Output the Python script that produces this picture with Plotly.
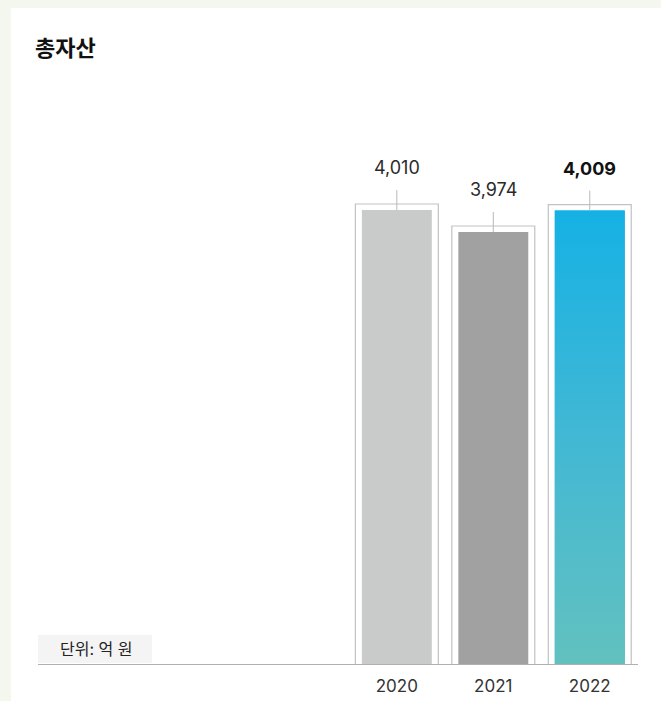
import plotly.graph_objects as go

# Total assets by year (unit: 100 million KRW)
years = ["2020", "2021", "2022"]
assets = [4010, 3974, 4009]
value_labels = ["4,010", "3,974", "4,009"]
bar_colors = ["#c9cbca", "#a0a1a0", "#15b1e4"]

W, H = 661, 701
M_L, M_R, M_T, M_B = 38, 23, 100, 37
PLOT_W = W - M_L - M_R
PLOT_H = H - M_T - M_B

Y_MIN, Y_MAX = 3267, 4190
X_MIN, X_MAX = -3.72, 2.5
PX_PER_UNIT = PLOT_H / (Y_MAX - Y_MIN)

INNER_W = 0.725
OUTER_W = 0.86
FRAME_PAD = 6 / PX_PER_UNIT      # frame rises 6px above each bar
STEM = 20 / PX_PER_UNIT          # leader line length

xs = list(range(len(years)))


def px_x(p):
    return (p - M_L) / PLOT_W


def px_y(p):
    return (H - M_B - p) / PLOT_H


fig = go.Figure()

# outline frames behind the bars
fig.add_trace(go.Bar(
    x=xs, y=[v + FRAME_PAD for v in assets], width=OUTER_W,
    marker=dict(color="white", line=dict(color="#c2c2c2", width=1.2)),
    hoverinfo="skip", showlegend=False,
))

# solid bars
fig.add_trace(go.Bar(
    x=xs, y=assets, width=INNER_W,
    marker=dict(color=bar_colors, line=dict(width=0)),
    hoverinfo="skip", showlegend=False,
))

# gradient fill for the latest year
i = len(years) - 1
x0, x1 = xs[i] - INNER_W / 2, xs[i] + INNER_W / 2
fig.add_trace(go.Scatter(
    x=[x0, x1, x1, x0, x0],
    y=[Y_MIN, Y_MIN, assets[i], assets[i], Y_MIN],
    mode="lines", fill="toself", line=dict(width=0),
    fillgradient=dict(type="vertical",
                      colorscale=[[0, "#62c1bf"], [0.5, "#42b8d4"], [1, "#15b1e4"]]),
    hoverinfo="skip", showlegend=False,
))

shapes = [
    # white card over the tinted page
    dict(type="rect", xref="paper", yref="paper",
         x0=px_x(11), x1=px_x(W + 5), y0=px_y(H + 5), y1=px_y(8),
         fillcolor="white", line=dict(width=0), layer="below"),
    # unit caption box
    dict(type="rect", xref="paper", yref="paper",
         x0=px_x(38), x1=px_x(152), y0=px_y(663), y1=px_y(635),
         fillcolor="#f4f4f4", line=dict(width=0), layer="below"),
]
for x, v in zip(xs, assets):
    shapes.append(dict(type="line", xref="x", yref="y",
                       x0=x, x1=x, y0=v, y1=v + STEM,
                       line=dict(color="#b8b8b8", width=1)))

annotations = []
for k, (x, v, t) in enumerate(zip(xs, assets, value_labels)):
    last = k == len(years) - 1
    annotations.append(dict(
        x=x, y=v, xref="x", yref="y", text=f"<b>{t}</b>" if last else t,
        showarrow=False, yanchor="middle", yshift=42,
        font=dict(size=18, color="#111111" if last else "#2a2a2a",
                  family="Inter, Noto Sans CJK KR"),
    ))
annotations.append(dict(
    x=px_x(96), y=px_y(649), xref="paper", yref="paper",
    text="단위: 억 원", showarrow=False, xanchor="center", yanchor="middle",
    font=dict(size=16, color="#222222", family="Inter, Noto Sans CJK KR"),
))

fig.update_layout(
    width=W, height=H,
    margin=dict(l=M_L, r=M_R, t=M_T, b=M_B, pad=0, autoexpand=False),
    paper_bgcolor="#f3f7ee", plot_bgcolor="white",
    barmode="overlay",
    title=dict(text="총자산", x=35 / W, y=1 - 48 / H, xanchor="left", yanchor="middle",
               font=dict(size=22, color="#111111", family="Noto Sans CJK KR", weight=700)),
    xaxis=dict(range=[X_MIN, X_MAX], tickvals=xs, ticktext=years,
               showgrid=False, zeroline=False, showline=True, automargin=False,
               linecolor="#b0b0b0", linewidth=1, ticks="", ticklabelstandoff=7,
               tickfont=dict(size=17, color="#333333", family="Inter, Noto Sans CJK KR"),
               fixedrange=True),
    yaxis=dict(range=[Y_MIN, Y_MAX], showgrid=False, zeroline=False, automargin=False,
               showticklabels=False, showline=False, fixedrange=True),
    shapes=shapes, annotations=annotations,
    showlegend=False,
)

fig.write_html("out.html", config={"displayModeBar": False})
